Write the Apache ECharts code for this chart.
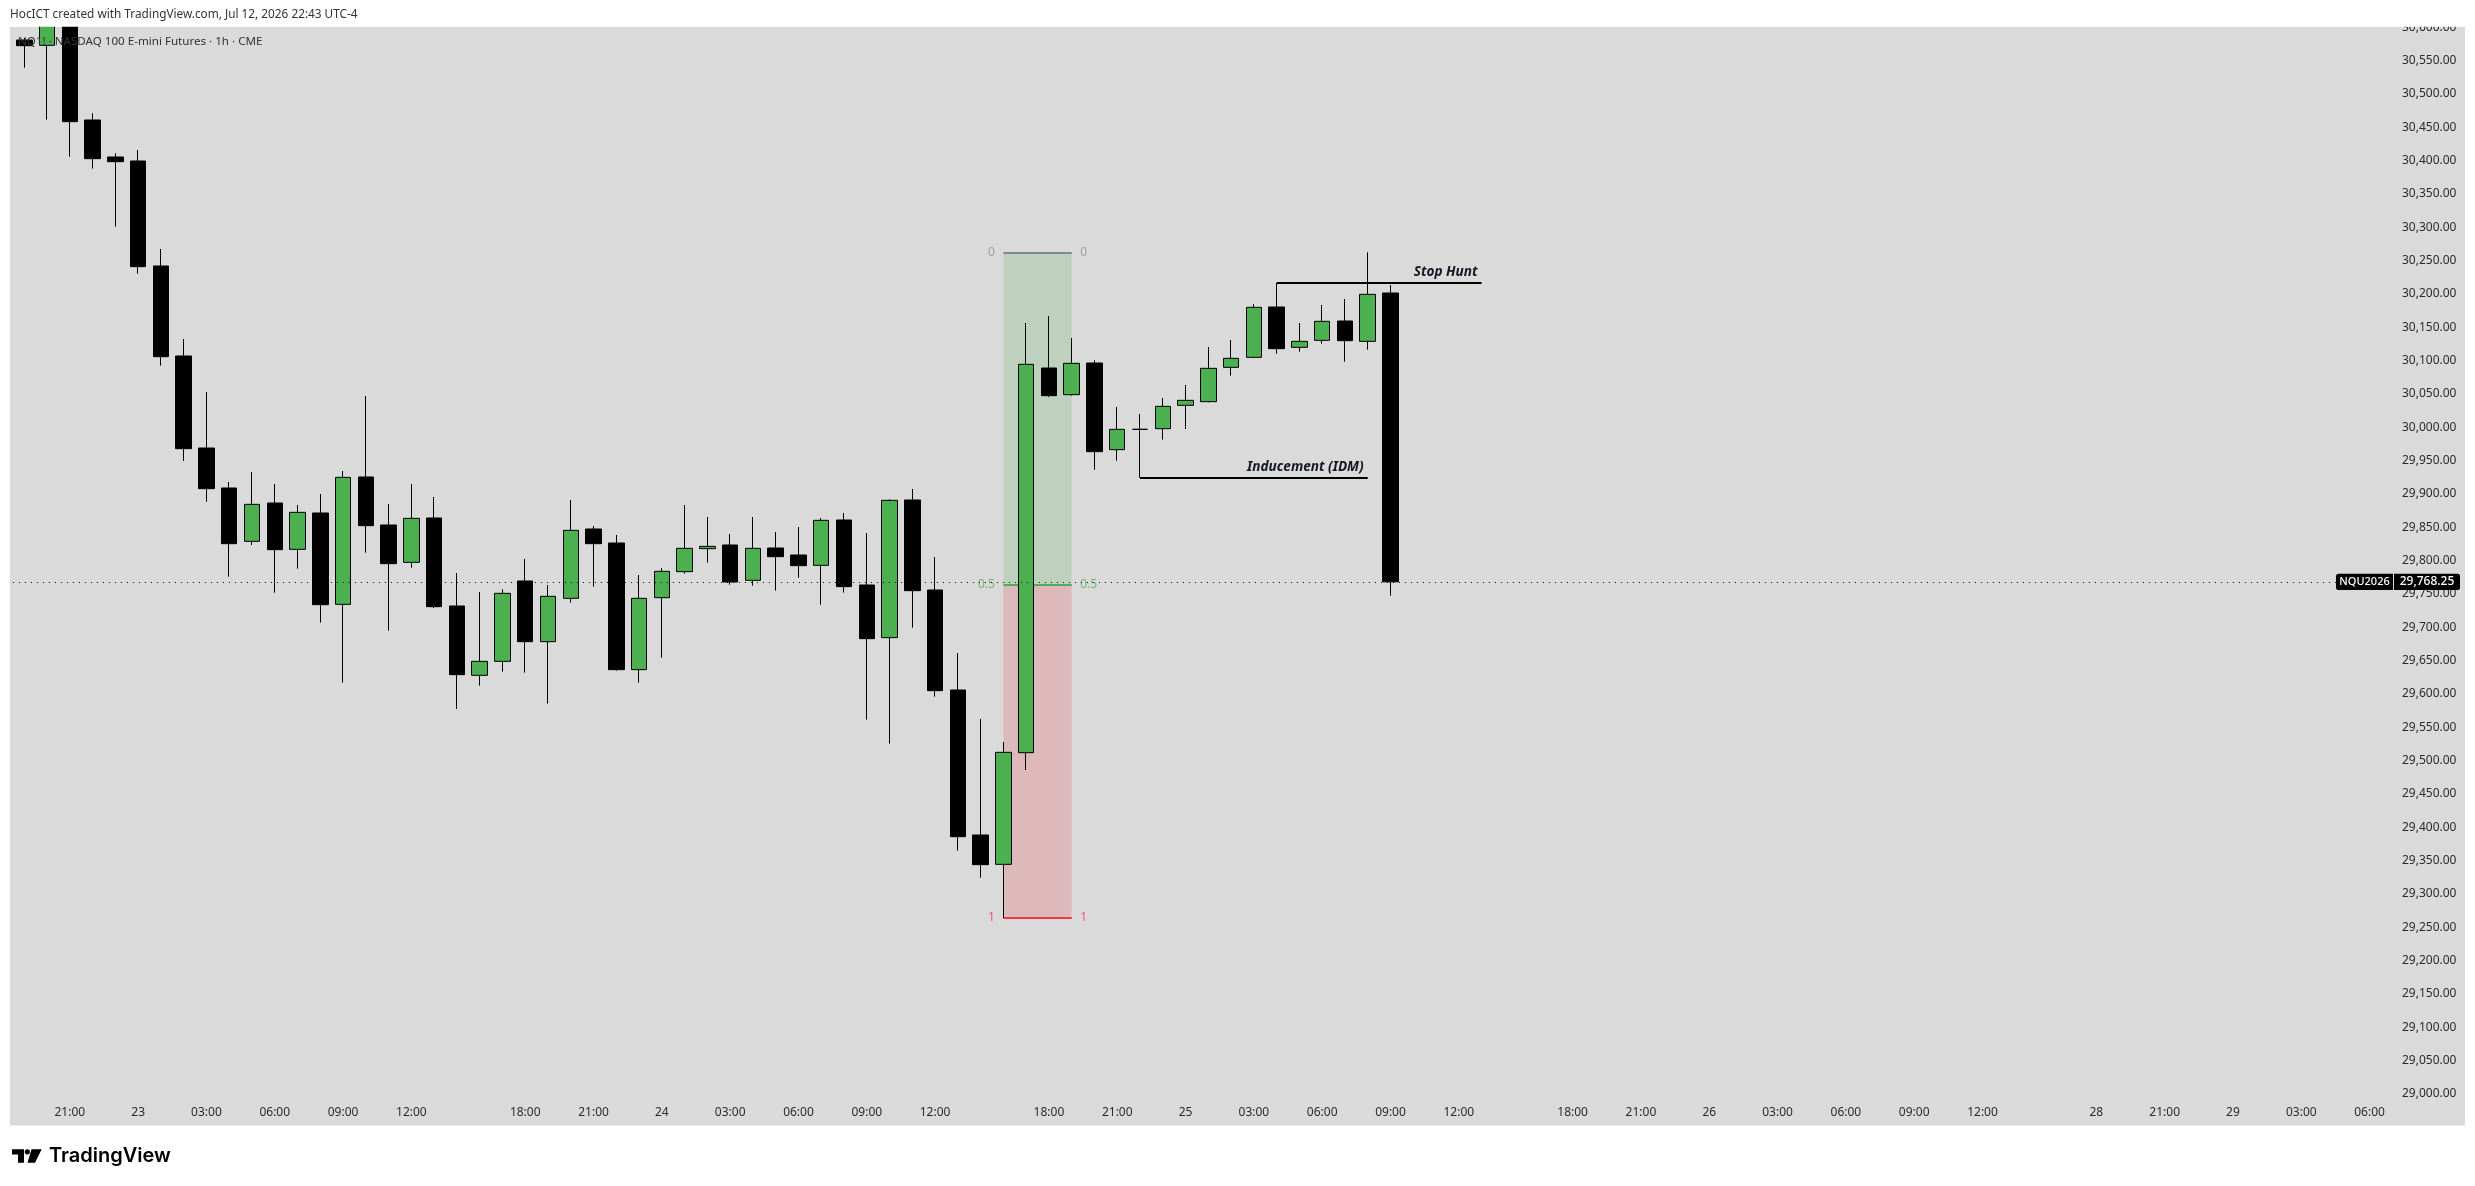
<!DOCTYPE html>
<html>
<head>
<meta charset="utf-8">
<title>NQ1! 1h</title>
<script src="https://cdn.jsdelivr.net/npm/echarts@6/dist/echarts.min.js"></script>
<style>
html, body { margin: 0; padding: 0; background: #fff; }
#chart { width: 2475px; height: 1186px; }
</style>
</head>
<body>
<div id="chart"></div>
<script>
// 价格数据（从图上读取，前两根顶部被裁切，为估计值）
var opens = [30581, 30573, 30620, 30461, 30405.5, 30399.5, 30242, 30107, 29969, 29909,
	29829, 29886.5, 29817, 29871.5, 29734.5, 29925.5, 29853.5, 29797.5, 29864, 29732,
	29628, 29649, 29769.5, 29678.5, 29743.5, 29847.5, 29826.5, 29636.5, 29744.5, 29783.5,
	29818, 29823.5, 29770.5, 29819, 29808.5, 29793, 29861, 29763.5, 29684.5, 29891,
	29756, 29606, 29388.5, 29344.5, 29512, 30089, 30049, 30096.5, 29966.5, 29997,
	29998, 30033, 30038.5, 30090, 30105, 30180.5, 30120, 30130.5, 30159.5, 30129, 30201.5];
var closes = [30572.5, 30626, 30458.5, 30403, 30398.5, 30241, 30106, 29968, 29908, 29825.5,
	29884.5, 29816.5, 29872.5, 29734, 29925, 29852.5, 29795.5, 29863.5, 29731, 29629,
	29649, 29751, 29678.5, 29746.5, 29845.5, 29825.5, 29636.5, 29743.5, 29784, 29818.5,
	29821.5, 29768, 29818.5, 29806, 29792.5, 29860.5, 29761, 29683, 29890.5, 29755,
	29605, 29386, 29344, 29512.5, 30094.5, 30047.5, 30096, 29963.5, 29997, 29997,
	30031.5, 30040.5, 30088.5, 30103.5, 30180, 30118, 30129, 30159, 30130, 30199.5, 29768.25];
var highs = [30584, 30640, 30650, 30471, 30411, 30416, 30267.5, 30132.5, 30053, 29918,
	29933, 29915, 29883.5, 29900, 29934.5, 30047, 29885, 29915, 29895.5, 29781.5,
	29753, 29757, 29802.5, 29763.5, 29891, 29852, 29838.5, 29778.5, 29789, 29883.5,
	29865.5, 29840, 29865.5, 29843, 29850.5, 29864, 29871.5, 29841.5, 29892, 29907.5,
	29805.5, 29661.5, 29562.5, 29528, 30156.5, 30167, 30134, 30100.5, 30030.5, 30020,
	30044, 30063.5, 30120.5, 30131, 30185, 30216.5, 30156.5, 30183.5, 30192.5, 30262.5, 30213.5];
var lows = [30539.5, 30461.5, 30406, 30388, 30301, 30230.5, 30092.5, 29949.5, 29888.5, 29776,
	29823.5, 29752, 29788, 29707, 29617, 29812, 29695, 29789.5, 29729, 29577.5,
	29612.5, 29633.5, 29632, 29585.5, 29737, 29761, 29635, 29617, 29654.5, 29780.5,
	29797, 29764, 29762.5, 29755, 29774.5, 29734, 29752, 29561.5, 29525.5, 29699.5,
	29596, 29365, 29324.5, 29264, 29486, 30045.5, 30047.5, 29936.5, 29950, 29924.5,
	29981.5, 29997.5, 30037.5, 30077.5, 30104, 30110.5, 30113.5, 30125.5, 30098.5, 30116.5, 29747.5];

// 时间轴刻度
var tickIndex = [2, 5, 8, 11, 14, 17, 22, 25, 28, 31, 34, 37, 40, 45, 48, 51, 54, 57, 60, 63,
	68, 71, 74, 77, 80, 83, 86, 91, 94, 97, 100, 103];
var tickLabels = ['21:00', '23', '03:00', '06:00', '09:00', '12:00', '18:00', '21:00', '24', '03:00', '06:00', '09:00', '12:00',
	'18:00', '21:00', '25', '03:00', '06:00', '09:00', '12:00',
	'18:00', '21:00', '26', '03:00', '06:00', '09:00', '12:00', '28', '21:00', '29', '03:00', '06:00'];
var slotCount = 104;

// 斐波那契区间与标注
var lastPrice = 29768.25;
var lastLine = 29767.25; // 点线对齐到整像素
var fibStart = 43, fibEnd = 46;
var fibZero = 30262, fibHalf = 29764, fibOne = 29264;
var stopHuntPrice = 30217, stopHuntFrom = 55, stopHuntTo = 64;
var idmPrice = 29924.5, idmFrom = 49, idmTo = 59;

var categories = [];
for (var i = 0; i < slotCount; i++) {
	var k = tickIndex.indexOf(i);
	categories.push(k >= 0 ? tickLabels[k] : '');
}

var candles = opens.map(function(o, i) {
	return [o, closes[i], lows[i], highs[i]];
});

var FONT = '"Noto Sans", sans-serif';

function fibLabel(x, price, text, color, side) {
	return {
		value: [x, price],
		label: { show: true, position: side, distance: 8, formatter: text, color: color, fontSize: 12, fontFamily: FONT }
	};
}

function fibLine(price, color) {
	return [{
		coord: [fibStart, price],
		lineStyle: { color: color, width: 2, type: 'solid' }
	}, {
		coord: [fibEnd, price]
	}];
}

function noteLine(price, from, to, text) {
	return [{
		coord: [from, price],
		lineStyle: { color: '#000', width: 2, type: 'solid' },
		label: {
			show: true, position: 'insideEndTop', distance: 4, formatter: text,
			color: '#131722', fontSize: 13.6, fontStyle: 'italic', fontWeight: 'bold', fontFamily: FONT,
			textBorderWidth: 0
		}
	}, {
		coord: [to, price]
	}];
}

var chart = echarts.init(document.getElementById('chart'));

var option = {
	animation: false,
	backgroundColor: '#fff',
	grid: { left: 12.9, top: 27.33, width: 2368.08, height: 1100 },
	xAxis: {
		type: 'category',
		data: categories,
		axisLine: { show: false },
		axisTick: { show: false },
		splitLine: { show: false },
		axisLabel: {
			inside: true,
			margin: 9,
			interval: 0,
			color: '#2b2b2b',
			fontSize: 12,
			fontFamily: FONT
		}
	},
	yAxis: {
		type: 'value',
		position: 'right',
		min: 28950,
		max: 30600,
		interval: 50,
		axisLine: { show: false },
		axisTick: { show: false },
		splitLine: { show: false },
		axisLabel: {
			margin: 21,
			color: '#2b2b2b',
			fontSize: 12,
			fontFamily: FONT,
			showMinLabel: false,
			formatter: function(v) {
				return v.toLocaleString('en-US', { minimumFractionDigits: 2, maximumFractionDigits: 2 });
			}
		}
	},
	graphic: [
		{ type: 'rect', z: -1, silent: true, shape: { x: 10, y: 26.7, width: 2455, height: 1099 }, style: { fill: '#dadada' } },
		// 上下白边盖住裁切的刻度
		{ type: 'rect', z: 50, silent: true, shape: { x: 0, y: 0, width: 2475, height: 26.7 }, style: { fill: '#fff' } },
		{ type: 'rect', z: 50, silent: true, shape: { x: 0, y: 1125.7, width: 2475, height: 61 }, style: { fill: '#fff' } },
		{ type: 'text', z: 51, silent: true, x: 10, y: 15, style: { text: 'HocICT created with TradingView.com, Jul 12, 2026 22:43 UTC-4', fill: '#333', font: '11.8px ' + FONT, textVerticalAlign: 'middle' } },
		{ type: 'text', z: 51, silent: true, x: 18, y: 42, style: { text: 'NQ1! · NASDAQ 100 E-mini Futures · 1h · CME', fill: '#333', font: '11.6px ' + FONT, textVerticalAlign: 'middle' } },
		// TradingView 标志
		{ type: 'polygon', z: 51, silent: true, shape: { points: [[12, 1149.3], [24, 1149.3], [24, 1162.7], [18, 1162.7], [18, 1154.5], [12, 1154.5]] }, style: { fill: '#000' } },
		{ type: 'circle', z: 51, silent: true, shape: { cx: 27.3, cy: 1151.8, r: 2.6 }, style: { fill: '#000' } },
		{ type: 'polygon', z: 51, silent: true, shape: { points: [[31.5, 1149.3], [41.7, 1149.3], [35, 1162.7], [27.5, 1162.7]] }, style: { fill: '#000' } },
		{ type: 'text', z: 51, silent: true, x: 49, y: 1156, style: { text: 'TradingView', fill: '#000', font: '600 20px Inter, sans-serif', textVerticalAlign: 'middle' } }
	],
	series: [{
		// 斐波那契区间放在K线下层
		name: 'Fib',
		type: 'scatter',
		z: 1,
		symbolSize: 1,
		itemStyle: { color: 'transparent' },
		silent: true,
		data: [
			fibLabel(fibStart, fibZero, '0', '#8d9096', 'left'),
			fibLabel(fibEnd, fibZero, '0', '#8d9096', 'right'),
			fibLabel(fibStart, fibHalf, '0.5', '#4caf50', 'left'),
			fibLabel(fibEnd, fibHalf, '0.5', '#4caf50', 'right'),
			fibLabel(fibStart, fibOne, '1', '#f23645', 'left'),
			fibLabel(fibEnd, fibOne, '1', '#f23645', 'right')
		],
		markArea: {
			silent: true,
			data: [
				[{ coord: [fibStart, fibZero], itemStyle: { color: 'rgba(76,175,80,0.2)' } }, { coord: [fibEnd, fibHalf] }],
				[{ coord: [fibStart, fibHalf], itemStyle: { color: 'rgba(242,54,69,0.2)' } }, { coord: [fibEnd, fibOne] }]
			]
		},
		markLine: {
			z: 1,
			silent: true,
			symbol: 'none',
			label: { show: false },
			data: [fibLine(fibZero, '#83868d'), fibLine(fibHalf, '#4caf50'), fibLine(fibOne, '#f23645')]
		}
	}, {
		name: 'NQ1!',
		type: 'candlestick',
		z: 2,
		barWidth: 16,
		data: candles,
		clip: true,
		itemStyle: {
			color: '#4caf50',
			color0: '#000',
			borderColor: '#000',
			borderColor0: '#000',
			borderColorDoji: '#000',
			borderWidth: 1
		},
		markLine: {
			silent: true,
			symbol: 'none',
			label: { show: false },
			data: [
				{ yAxis: lastLine, lineStyle: { color: '#000', width: 1, type: [1, 5] }, label: { show: false } },
				noteLine(stopHuntPrice, stopHuntFrom, stopHuntTo, 'Stop Hunt'),
				noteLine(idmPrice, idmFrom, idmTo, 'Inducement (IDM)')
			]
		}
	}]
};

chart.setOption(option);

// 现价标签按价格轴定位
var tagY = chart.convertToPixel({ yAxisIndex: 0 }, lastPrice);
var tagGraphic = option.graphic.concat([
	{ type: 'rect', z: 60, silent: true, shape: { x: 2336, y: tagY - 8.2, width: 57, height: 16.4, r: [2.5, 0, 0, 2.5] }, style: { fill: '#000' } },
	{ type: 'rect', z: 60, silent: true, shape: { x: 2394, y: tagY - 8.2, width: 66, height: 16.4, r: [0, 2.5, 2.5, 0] }, style: { fill: '#000' } },
	{ type: 'text', z: 61, silent: true, x: 2364.5, y: tagY, style: { text: 'NQU2026', fill: '#fff', font: '500 11px ' + FONT, textAlign: 'center', textVerticalAlign: 'middle' } },
	{ type: 'text', z: 61, silent: true, x: 2427, y: tagY, style: { text: lastPrice.toLocaleString('en-US', { minimumFractionDigits: 2 }), fill: '#fff', font: '500 12px ' + FONT, textAlign: 'center', textVerticalAlign: 'middle' } }
]);
chart.setOption({ graphic: tagGraphic });
</script>
</body>
</html>
